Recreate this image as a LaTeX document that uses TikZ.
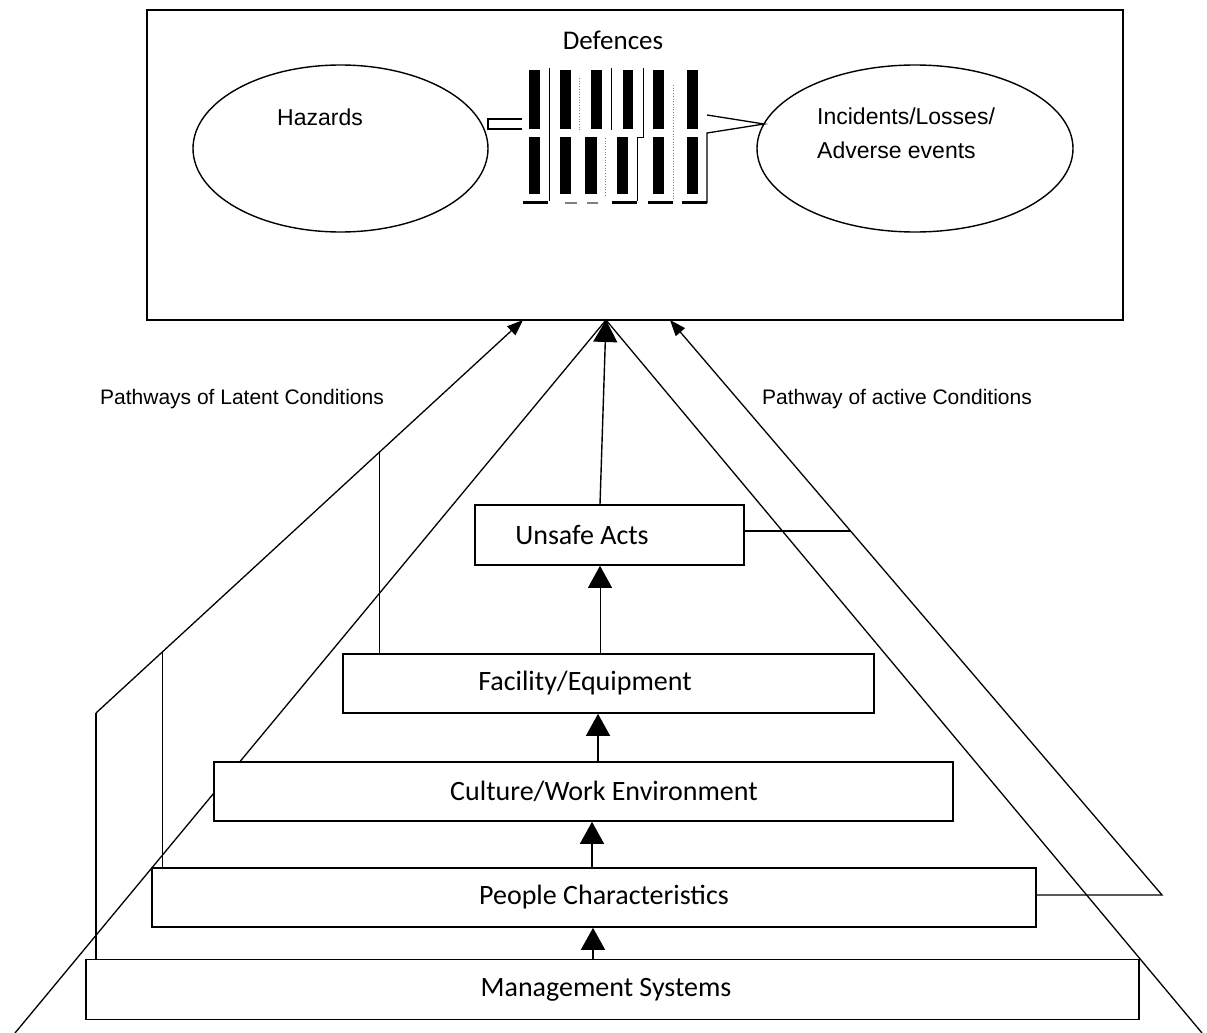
\documentclass[tikz,border=0pt]{standalone}
\usepackage{fontspec}
\setmainfont{Carlito}
\newfontfamily\arialf{Liberation Sans}
\usetikzlibrary{arrows.meta,shapes.geometric,calc}
\pgfdeclarelayer{bg}
\pgfsetlayers{bg,main}
\begin{document}
\begin{tikzpicture}[x=1pt,y=-1pt,
  ln/.style={line width=1.3pt},
  thin/.style={line width=0.9pt},
  boxn/.style={draw,line width=1.6pt,fill=white,inner sep=0pt,rectangle},
  ell/.style={ellipse,draw,line width=1.4pt,inner sep=0pt},
  btxt/.style={inner sep=0pt,font=\fontsize{28pt}{34pt}\selectfont},
  atxt/.style={inner sep=0pt,font=\arialf\fontsize{21pt}{26pt}\selectfont},
  etxt/.style={inner sep=0pt,font=\arialf\fontsize{23pt}{34pt}\selectfont},
  bigarr/.style={line width=1.4pt,-{Triangle[length=22pt,width=24pt]}},
  smarr/.style={line width=1.3pt,-{Triangle[length=16pt,width=12pt]}},
]
\useasboundingbox (0,0) rectangle (1207,1033);

% ---------- top box ----------
\node[boxn, fill=none, minimum width=976pt, minimum height=310pt] (topbox) at (635,165) {};
\node[font=\fontsize{27pt}{32pt}\selectfont, inner sep=0pt] (def) at (613,40) {Defences};

\node[ell, minimum width=295pt, minimum height=167pt] (haz) at (340.5,148.5) {};
\node[etxt] (hazt) at (320,117) {Hazards};
\node[ell, minimum width=316pt, minimum height=167pt] (inc) at (915,148.5) {};
\node[etxt, align=left, anchor=west] (inct) at (817,133) {Incidents/Losses/\\Adverse events};

% defence barriers
\fill (529,70) rectangle (540,129);  \fill (529,137) rectangle (540,194);
\fill (560,70) rectangle (571,129);  \fill (560,137) rectangle (571,194);
\fill (591,70) rectangle (602,129);  \fill (585,137) rectangle (597,194);
\fill (623,70) rectangle (633,129);  \fill (617,137) rectangle (628,194);
\fill (653,70) rectangle (664,129);  \fill (653,137) rectangle (664,194);
\fill (687,70) rectangle (698,129);  \fill (687,137) rectangle (698,194);
\draw[thin] (549,68) -- (549,201);
\draw[thin] (611,68) -- (611,130);
\draw[thin] (643,68) -- (643,137) -- (637,137) -- (637,201);
\draw[line width=0.7pt, gray, dotted] (579,78) -- (579,130);
\draw[line width=0.7pt, gray, dotted] (605,138) -- (605,197);
\draw[line width=0.7pt, gray, dotted] (673,85) -- (673,200);
\fill (523,201) rectangle (548,204);
\fill (612,201) rectangle (637,204);
\fill (648,201) rectangle (673,204);
\fill (682,201) rectangle (707,204);
\fill[gray] (565,202) rectangle (577,203.5);
\fill[gray] (587,202) rectangle (598,203.5);
% stub from hazards and wedge to incidents
\draw[ln] (522,119) -- (488,119) -- (488,129) -- (522,129);
\draw[ln] (707,115) -- (764,124) -- (707,133) -- (707,203);

% ---------- level boxes ----------
\node[boxn, minimum width=269pt, minimum height=60pt] (unsafe) at (609.5,535) {};
\node[boxn, minimum width=531pt, minimum height=59pt] (facility) at (608.5,683.5) {};
\node[boxn, minimum width=739pt, minimum height=59pt] (culture) at (583.5,791.5) {};
\node[boxn, minimum width=884pt, minimum height=59pt] (people) at (594,897.5) {};
\node[boxn, minimum width=1053pt, minimum height=60pt] (mgmt) at (612.5,989.5) {};

\node[btxt] (unsafet) at (582,535) {Unsafe Acts};
\node[btxt] (facilityt) at (585,683.5) {Facility/Equipment};
\node[btxt] (culturet) at (604,791.5) {Culture/Work Environment};
\node[btxt] (peoplet) at (604,897.5) {People Characteristics};
\node[btxt] (mgmtt) at (606,989.5) {Management Systems};

\node[atxt] (latent) at (242,399) {Pathways of Latent Conditions};
\node[atxt] (active) at (897,399) {Pathway of active Conditions};

% ---------- coordinates ----------
\coordinate (apex) at (606,320);
\coordinate (tipL) at (523,320);
\coordinate (tipR) at (670,320);
\coordinate (endLL) at (15,1033);
\coordinate (endRR) at (1202,1033);
\coordinate (kL) at (96,713);
\coordinate (kR) at (1162,895);
\coordinate (v2) at ($(kL)!0.1552!(tipL)$);
\coordinate (v3) at ($(kL)!0.6641!(tipL)$);
\coordinate (uR) at ($(kR)!0.633!(tipR)$);
\coordinate (a1) at (593,0);
\coordinate (a2) at (592,0);
\coordinate (a3) at (598,0);
\coordinate (a4) at (600,0);

% ---------- pathway lines (behind boxes) ----------
\begin{pgfonlayer}{bg}
\draw[ln] (endLL) -- (apex) -- (endRR);
\draw[ln] (mgmt.north -| kL) -- (kL);
\draw[smarr] (kL) -- (tipL);
\draw[ln] (people.north -| v2) -- (v2);
\draw[ln] (facility.north -| v3) -- (v3);
\draw[smarr] (people.east |- kR) -- (kR) -- (tipR);
\draw[ln] (unsafe.east |- uR) -- (uR);
\end{pgfonlayer}

% ---------- upward arrows ----------
\draw[bigarr] (mgmt.north -| a1) -- (people.south -| a1);
\draw[bigarr] (people.north -| a2) -- (culture.south -| a2);
\draw[bigarr] (culture.north -| a3) -- (facility.south -| a3);
\draw[bigarr, line width=0.8pt] (facility.north -| a4) -- (unsafe.south -| a4);
\draw[bigarr] (unsafe.north -| a4) -- (apex);
\end{tikzpicture}
\end{document}
